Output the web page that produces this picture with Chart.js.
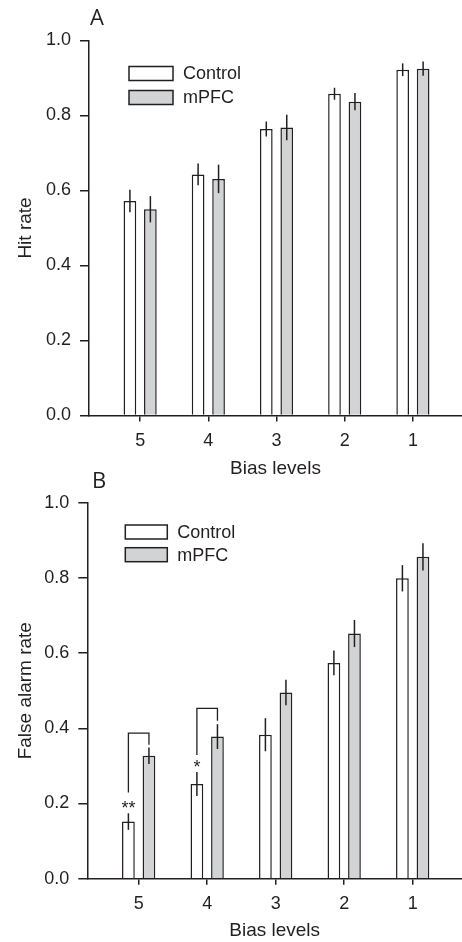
<!DOCTYPE html>
<html>
<head>
<meta charset="utf-8">
<script src="https://cdn.jsdelivr.net/npm/chart.js@4.4.1/dist/chart.umd.min.js"></script>
<style>
  html, body { margin: 0; padding: 0; background: #fff; overflow: hidden; }
  .panel { position: absolute; left: 0; width: 462px; }
  #wrapA { top: 0; height: 480px; }
  #wrapB { top: 470px; height: 472px; }
</style>
</head>
<body>
<div class="panel" id="wrapA"><canvas id="chartA"></canvas></div>
<div class="panel" id="wrapB"><canvas id="chartB"></canvas></div>
<script>
const biasLevels = ["5", "4", "3", "2", "1"];
const seriesNames = ["Control", "mPFC"];

// panel A: hit rate
const hitControl = [0.572, 0.643, 0.764, 0.858, 0.922];
const hitControlErr = [0.030, 0.029, 0.020, 0.016, 0.017];
const hitMpfc = [0.550, 0.631, 0.768, 0.837, 0.925];
const hitMpfcErr = [0.035, 0.038, 0.034, 0.023, 0.019];

// panel B: false alarm rate
const faControl = [0.152, 0.252, 0.383, 0.574, 0.799];
const faControlErr = [0.022, 0.032, 0.044, 0.033, 0.035];
const faMpfc = [0.327, 0.378, 0.495, 0.652, 0.856];
const faMpfcErr = [0.022, 0.033, 0.034, 0.036, 0.036];

// significance marks in panel B
const sigIndex = [0, 1];
const sigTop = [0.387, 0.453];
const sigLeftEnd = [0.229, 0.329];
const sigRightEnd = [0.356, 0.420];
const sigStarAt = [0.199, 0.307];
const sigLabel = ["**", "*"];

const INK = "#231f20";
const GREY = "#d1d3d4";
const FONT = '"Liberation Sans", Arial, sans-serif';

Chart.defaults.font.family = FONT;
Chart.defaults.color = INK;

const errorBars = {
  id: "errorBars",
  afterDatasetsDraw(chart) {
    const { ctx } = chart;
    const y = chart.scales.y;
    ctx.save();
    ctx.strokeStyle = INK;
    ctx.lineWidth = 1.5;
    chart.data.datasets.forEach((ds, i) => {
      chart.getDatasetMeta(i).data.forEach((bar, j) => {
        const v = ds.data[j].y, e = ds.errors[j];
        ctx.beginPath();
        ctx.moveTo(bar.x, y.getPixelForValue(v + e));
        ctx.lineTo(bar.x, y.getPixelForValue(v - e));
        ctx.stroke();
      });
    });
    ctx.restore();
  }
};

const panelDeco = {
  id: "panelDeco",
  afterDraw(chart, args, o) {
    const { ctx, chartArea } = chart;
    ctx.save();
    ctx.fillStyle = INK;
    ctx.font = '22px "Open Sans", "Noto Sans", sans-serif';
    ctx.textBaseline = "alphabetic";
    ctx.fillText(o.letter, o.letterX, o.letterY);

    ctx.font = "18px " + FONT;
    ctx.textBaseline = "middle";
    chart.data.datasets.forEach((ds, i) => {
      const x = chartArea.left + o.legendDx;
      const y = chartArea.top + o.legendDy + i * o.rowGap;
      ctx.fillStyle = ds.backgroundColor;
      ctx.fillRect(x, y, o.boxW, 14);
      ctx.strokeStyle = INK;
      ctx.lineWidth = 1.5;
      ctx.strokeRect(x, y, o.boxW, 14);
      ctx.fillStyle = INK;
      ctx.fillText(ds.label, x + o.boxW + 10, y + 8);
    });
    ctx.restore();
  }
};

const sigBrackets = {
  id: "sigBrackets",
  afterDatasetsDraw(chart) {
    const { ctx } = chart;
    const y = chart.scales.y;
    const left = chart.getDatasetMeta(0).data;
    const right = chart.getDatasetMeta(1).data;
    ctx.save();
    ctx.strokeStyle = INK;
    ctx.lineWidth = 1.3;
    ctx.fillStyle = INK;
    ctx.font = "18px " + FONT;
    ctx.textAlign = "center";
    ctx.textBaseline = "alphabetic";
    sigIndex.forEach((k, n) => {
      const x0 = left[k].x, x1 = right[k].x;
      ctx.beginPath();
      ctx.moveTo(x0, y.getPixelForValue(sigLeftEnd[n]));
      ctx.lineTo(x0, y.getPixelForValue(sigTop[n]));
      ctx.lineTo(x1, y.getPixelForValue(sigTop[n]));
      ctx.lineTo(x1, y.getPixelForValue(sigRightEnd[n]));
      ctx.stroke();
      ctx.fillText(sigLabel[n], x0, y.getPixelForValue(sigStarAt[n]) + 10);
    });
    ctx.restore();
  }
};

function makeChart(id, ctrl, ctrlErr, mpfc, mpfcErr, yTitle, axis, deco, extra) {
  const toPoints = (arr) => arr.map((v, i) => ({ x: i, y: v }));
  return new Chart(document.getElementById(id), {
    type: "bar",
    data: {
      datasets: [
        {
          label: seriesNames[0],
          data: toPoints(ctrl),
          errors: ctrlErr,
          backgroundColor: "#ffffff",
          borderColor: INK,
          borderWidth: 1.5,
        },
        {
          label: seriesNames[1],
          data: toPoints(mpfc),
          errors: mpfcErr,
          backgroundColor: GREY,
          borderColor: INK,
          borderWidth: 1.5,
        },
      ],
    },
    options: {
      responsive: true,
      maintainAspectRatio: false,
      animation: false,
      devicePixelRatio: 1,
      categoryPercentage: 0.6,
      barPercentage: 0.62,
      layout: { padding: { top: axis.top, left: 0, right: 0, bottom: 0 } },
      scales: {
        x: {
          type: "linear",
          min: -0.75,
          max: 4.72,
          offset: false,
          afterFit: (s) => { s.height = axis.xHeight; },
          afterBuildTicks: (s) => { s.ticks = biasLevels.map((_, i) => ({ value: i })); },
          border: { display: true, color: INK, width: 1.5 },
          grid: { offset: false, drawOnChartArea: false, drawTicks: true, tickLength: 6, color: INK, lineWidth: 1.5 },
          ticks: {
            autoSkip: false,
            maxRotation: 0,
            padding: 9,
            font: { size: 18 },
            color: INK,
            callback: (v) => biasLevels[Math.round(v)],
          },
          title: { display: true, text: "Bias levels", font: { size: 19 }, color: INK, padding: { top: 0, bottom: 0 } },
        },
        y: {
          min: 0,
          max: 1,
          afterFit: (s) => { s.width = axis.yWidth; },
          border: { display: true, color: INK, width: 1.5 },
          grid: { drawOnChartArea: false, drawTicks: true, tickLength: 9, color: INK, lineWidth: 1.5 },
          ticks: {
            stepSize: 0.2,
            padding: 9,
            font: { size: 18 },
            color: INK,
            callback: (v) => v.toFixed(1),
          },
          title: { display: true, text: yTitle, font: { size: 19 }, color: INK, padding: { top: 14, bottom: 0 } },
        },
      },
      plugins: {
        legend: { display: false },
        tooltip: { enabled: false },
        panelDeco: deco,
      },
    },
    plugins: [errorBars, panelDeco].concat(extra),
  });
}

makeChart("chartA", hitControl, hitControlErr, hitMpfc, hitMpfcErr, "Hit rate",
  { top: 40.5, xHeight: 64.5, yWidth: 89 },
  { letter: "A", letterX: 90, letterY: 25, legendDx: 40, legendDy: 26, rowGap: 24, boxW: 44 },
  []);

makeChart("chartB", faControl, faControlErr, faMpfc, faMpfcErr, "False alarm rate",
  { top: 32.7, xHeight: 63.3, yWidth: 87.3 },
  { letter: "B", letterX: 92, letterY: 18, legendDx: 38, legendDy: 22.3, rowGap: 22.7, boxW: 42 },
  [sigBrackets]);
</script>
</body>
</html>
